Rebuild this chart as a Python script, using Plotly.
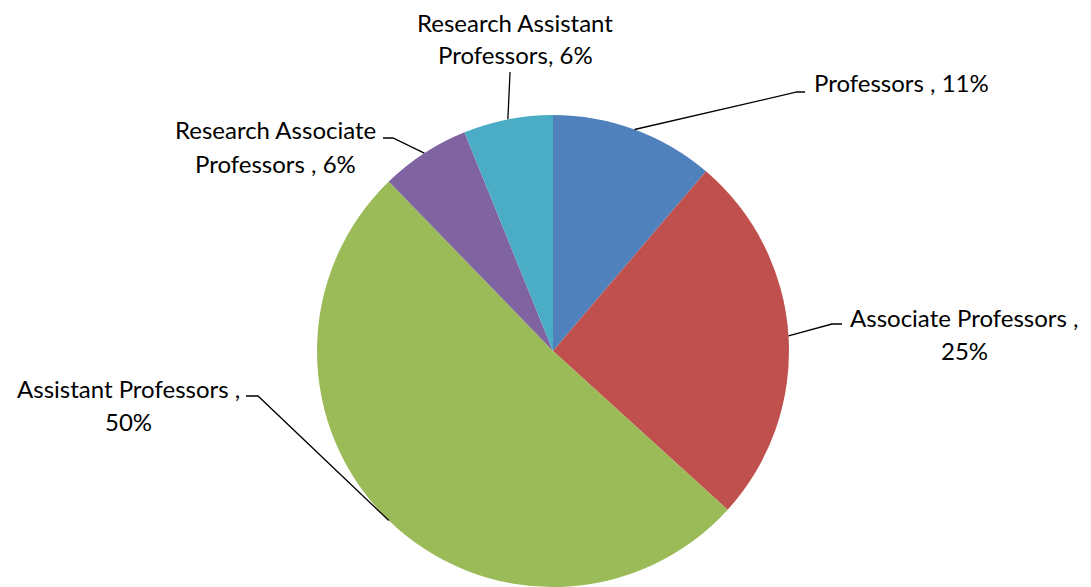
import math
import plotly.graph_objects as go

W, H = 1091, 587

# --- data ---
categories = ["Professors", "Associate Professors", "Assistant Professors",
              "Research Associate Professors", "Research Assistant Professors"]
shares = [11, 25, 50, 6, 6]
colors = ["#4F81BD", "#C0504D", "#9BBB59", "#8064A2", "#4BACC6"]
label_lines = [
    ["Professors , 11%"],
    ["Associate Professors ,", "25%"],
    ["Assistant Professors ,", "50%"],
    ["Research Associate", "Professors , 6%"],
    ["Research Assistant", "Professors, 6%"],
]

# --- layout (pixels) ---
CX, CY, R = 553, 351, 236
label_pos = [(901, 82), (964, 317), (128, 388), (275, 130), (515, 22)]
line_gap = 33
elbows = [[(797, 92), (805, 92)],
          [(832, 324), (842, 324)],
          [(258, 396), (246, 396)],
          [(393, 138), (383, 138)],
          [(510, 72)]]

def px(x, y):
    return x / W, 1 - y / H

fig = go.Figure()
fig.add_trace(go.Pie(
    labels=categories, values=shares, sort=False, direction="clockwise",
    rotation=0, textinfo="none", hoverinfo="label+percent",
    marker=dict(colors=colors, line=dict(width=0)),
    domain=dict(x=[(CX - R) / W, (CX + R) / W], y=[1 - (CY + R) / H, 1 - (CY - R) / H]),
    showlegend=False,
))

total = sum(shares)
cum = 0
shapes, annotations = [], []
for i, v in enumerate(shares):
    mid = (cum + v / 2) / total * 2 * math.pi
    cum += v
    ax, ay = CX + R * math.sin(mid), CY - R * math.cos(mid)
    pts = [(ax, ay)] + elbows[i]
    path = "M " + " L ".join("%.4f,%.4f" % px(x, y) for x, y in pts)
    shapes.append(dict(type="path", path=path, xref="paper", yref="paper",
                       line=dict(color="black", width=1.3)))
    lx, ly = label_pos[i]
    for k, txt in enumerate(label_lines[i]):
        x, y = px(lx, ly + k * line_gap)
        annotations.append(dict(text=txt, x=x, y=y, xref="paper", yref="paper",
                                xanchor="center", yanchor="middle", showarrow=False,
                                font=dict(family="Lato", size=24, color="black")))

fig.update_layout(
    width=W, height=H, margin=dict(l=0, r=0, t=0, b=0),
    paper_bgcolor="white", plot_bgcolor="white",
    shapes=shapes, annotations=annotations,
)

fig.write_html("out.html", config={"displayModeBar": False},
               post_script="document.body.style.margin='0px';")
